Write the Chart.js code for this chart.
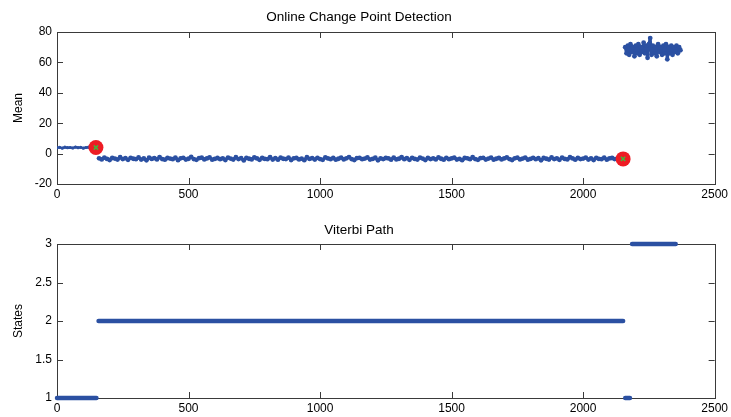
<!DOCTYPE html>
<html>
<head>
<meta charset="utf-8">
<script src="https://cdn.jsdelivr.net/npm/chart.js@4"></script>
<style>
  html, body { margin: 0; padding: 0; background: #fff; }
  #wrap { position: relative; width: 731px; height: 417px; }
  canvas { position: absolute; left: 0; }
  #meanChart { top: 0; }
  #stateChart { top: 205px; }
</style>
</head>
<body>
<div id="wrap">
  <canvas id="meanChart" width="731" height="205"></canvas>
  <canvas id="stateChart" width="731" height="212"></canvas>
</div>
<script>
// Online change point detection: posterior mean + viterbi states

// x ticks shared by both plots
const xTicks = [0, 500, 1000, 1500, 2000, 2500];
const meanTicks = [-20, 0, 20, 40, 60, 80];
const stateTicks = [1, 1.5, 2, 2.5, 3];

// each regime: first sample index, spacing of the samples we read, mean values
const regimeStart = [0, 160, 2160];
const regimeStep = [10, 10, 5];

const regime1Mean = [3.8, 4.1, 3.6, 4.2, 3.9, 4.0, 3.7, 4.3, 3.9, 4.1, 3.6, 4.0, 4.2, 3.8, 4.1, 3.9];

const regime2Mean = [
  -3.1, -3.8, -2.6, -3.5, -4.2, -2.9, -3.3, -3.9, -2.4, -3.6, -3.0, -4.1, -2.8, -3.4, -3.7, -2.5, -3.9, -3.2, -4.4, -2.7,
  -3.5, -3.0, -3.8, -2.3, -3.6, -4.0, -2.9, -3.3, -3.7, -2.6, -4.3, -3.1, -2.8, -3.9, -3.4, -2.2, -3.6, -4.1, -3.0, -2.7,
  -3.8, -3.2, -2.5, -4.0, -3.5, -2.9, -3.7, -3.1, -4.2, -2.6, -3.3, -3.9, -2.4, -3.6, -3.0, -4.5, -2.8, -3.4, -3.8, -2.5,
  -3.2, -4.1, -2.9, -3.5, -3.7, -2.3, -3.9, -3.0, -4.0, -2.7, -3.4, -3.6, -2.6, -4.2, -3.1, -2.9, -3.8, -3.3, -4.3, -2.4,
  -3.5, -3.0, -3.9, -2.8, -3.6, -4.1, -2.5, -3.2, -3.7, -2.9, -4.0, -3.4, -2.6, -3.8, -3.1, -2.3, -3.6, -4.2, -3.0, -2.8,
  -3.7, -3.3, -2.5, -3.9, -3.5, -2.7, -4.4, -3.1, -3.6, -2.9, -3.2, -4.0, -2.6, -3.8, -3.4, -2.4, -3.7, -3.0, -4.1, -2.8,
  -3.5, -3.9, -2.7, -3.3, -4.2, -2.9, -3.6, -3.1, -3.8, -2.5, -3.4, -4.0, -2.8, -3.7, -3.2, -2.6, -3.9, -3.5, -4.3, -2.9,
  -3.1, -3.7, -2.4, -3.6, -4.1, -3.0, -2.8, -3.9, -3.3, -2.6, -4.0, -3.4, -2.9, -3.8, -3.2, -2.5, -3.6, -4.2, -3.1, -2.7,
  -3.8, -3.3, -2.6, -4.0, -3.5, -2.8, -3.7, -3.0, -4.4, -2.9, -3.4, -3.9, -2.5, -3.6, -3.1, -4.1, -2.7, -3.5, -3.8, -2.4,
  -3.2, -4.0, -2.9, -3.6, -3.3, -2.6, -3.9, -3.1, -4.2, -2.8, -3.5, -3.7, -2.7, -4.0, -3.2, -2.9, -3.6, -3.4, -3.8, -3.0
];

const regime3Mean = [
  70, 66, 71, 65, 72, 67, 70, 64, 71, 66,
  72, 65, 70, 67, 73, 66, 71, 63, 72, 76,
  65, 71, 66, 70, 64, 72, 67, 70, 65, 71,
  66, 72, 62, 70, 66, 71, 65, 70, 67, 71,
  66, 70, 68
];

// detected change points
const changeX = [148, 2152];
const changeY = [4, -3.5];

// viterbi path as runs of constant state
const stateRunFrom = [0, 158, 2160, 2186];
const stateRunTo = [150, 2152, 2178, 2352];
const stateRunValue = [1, 2, 1, 3];

const BLUE = '#2b50a2';
const FRAME = '#3a3a3a';
const FONT = { family: "'Liberation Sans', Arial, sans-serif", size: 12 };

Chart.defaults.font.family = FONT.family;
Chart.defaults.font.size = FONT.size;
Chart.defaults.color = '#000';

function regimePoints(start, step, values) {
  return values.map((v, i) => ({ x: start + i * step, y: v }));
}

// matlab style box with ticks pointing inward
const boxPlugin = {
  id: 'matlabBox',
  beforeDatasetsDraw(chart) {
    const { ctx, chartArea: a, scales: { x, y } } = chart;
    const len = 6;
    ctx.save();
    ctx.strokeStyle = FRAME;
    ctx.lineWidth = 1;
    ctx.beginPath();
    x.ticks.forEach(t => {
      const px = Math.round(x.getPixelForValue(t.value)) + 0.5;
      ctx.moveTo(px, a.bottom);
      ctx.lineTo(px, a.bottom - len);
      ctx.moveTo(px, a.top);
      ctx.lineTo(px, a.top + len);
    });
    y.ticks.forEach(t => {
      const py = Math.round(y.getPixelForValue(t.value)) + 0.5;
      ctx.moveTo(a.left, py);
      ctx.lineTo(a.left + len, py);
      ctx.moveTo(a.right, py);
      ctx.lineTo(a.right - len, py);
    });
    ctx.stroke();
    ctx.strokeRect(Math.round(a.left) + 0.5, Math.round(a.top) + 0.5,
      Math.round(a.right - a.left), Math.round(a.bottom - a.top));
    ctx.restore();
  }
};

function axisOptions(ticks, min, max, step, label, xHeight) {
  return {
    x: {
      type: 'linear', min: 0, max: 2500,
      grid: { display: false, drawTicks: false }, border: { display: false },
      ticks: { stepSize: 500, padding: 3, maxRotation: 0, callback: v => String(v) },
      afterBuildTicks: s => { s.ticks = xTicks.map(v => ({ value: v })); },
      afterFit: s => { s.height = xHeight; }
    },
    y: {
      type: 'linear', min: min, max: max,
      grid: { display: false, drawTicks: false }, border: { display: false },
      ticks: { stepSize: step, padding: 5, callback: v => String(v) },
      afterBuildTicks: s => { s.ticks = ticks.map(v => ({ value: v })); },
      title: { display: true, text: label, padding: { top: 11, bottom: 0 } },
      afterFit: s => { s.width = 57; }
    }
  };
}

function baseOptions(title, titlePad, scales) {
  return {
    responsive: false,
    animation: false,
    devicePixelRatio: 1,
    layout: { padding: { left: 0, right: 13, top: 0, bottom: 0 } },
    plugins: {
      legend: { display: false },
      tooltip: { enabled: false },
      title: { display: true, text: title, font: { size: 13.5, weight: 'normal' }, color: '#000', padding: titlePad }
    },
    scales: scales
  };
}

// Top: posterior mean
const regimeMeans = [regime1Mean, regime2Mean, regime3Mean];
const meanDatasets = regimeMeans.map((vals, k) => ({
  data: regimePoints(regimeStart[k], regimeStep[k], vals),
  showLine: true,
  borderColor: BLUE,
  borderWidth: k === 0 ? 2.5 : 3,
  borderJoinStyle: 'round',
  borderCapStyle: 'round',
  pointRadius: k === 0 ? 1.6 : 2.4,
  pointBackgroundColor: BLUE,
  pointBorderWidth: 0,
  order: 0
}));

meanDatasets.push({
  data: changeX.map((x, i) => ({ x: x, y: changeY[i] })),
  showLine: false,
  pointRadius: 7.5,
  pointBackgroundColor: '#ee1c24',
  pointBorderColor: '#ee1c24',
  pointBorderWidth: 0,
  order: -1
});
meanDatasets.push({
  data: changeX.map((x, i) => ({ x: x, y: changeY[i] })),
  showLine: false,
  pointStyle: 'crossRot',
  pointRadius: 3,
  pointBorderColor: '#46b43c',
  pointBorderWidth: 1.5,
  order: -2
});

new Chart(document.getElementById('meanChart'), {
  type: 'scatter',
  data: { datasets: meanDatasets },
  options: baseOptions('Online Change Point Detection', { top: 9, bottom: 6.8 },
    axisOptions(meanTicks, -20, 80, 20, 'Mean', 21)),
  plugins: [boxPlugin]
});

// Bottom: viterbi path
const stateDatasets = stateRunValue.map((s, i) => ({
  data: [{ x: stateRunFrom[i], y: s }, { x: stateRunTo[i], y: s }],
  showLine: true,
  borderColor: BLUE,
  borderWidth: 4.5,
  borderCapStyle: 'round',
  pointRadius: 0,
  clip: false
}));

new Chart(document.getElementById('stateChart'), {
  type: 'scatter',
  data: { datasets: stateDatasets },
  options: baseOptions('Viterbi Path', { top: 16.8, bottom: 6 },
    axisOptions(stateTicks, 1, 3, 0.5, 'States', 19)),
  plugins: [boxPlugin]
});
</script>
</body>
</html>
